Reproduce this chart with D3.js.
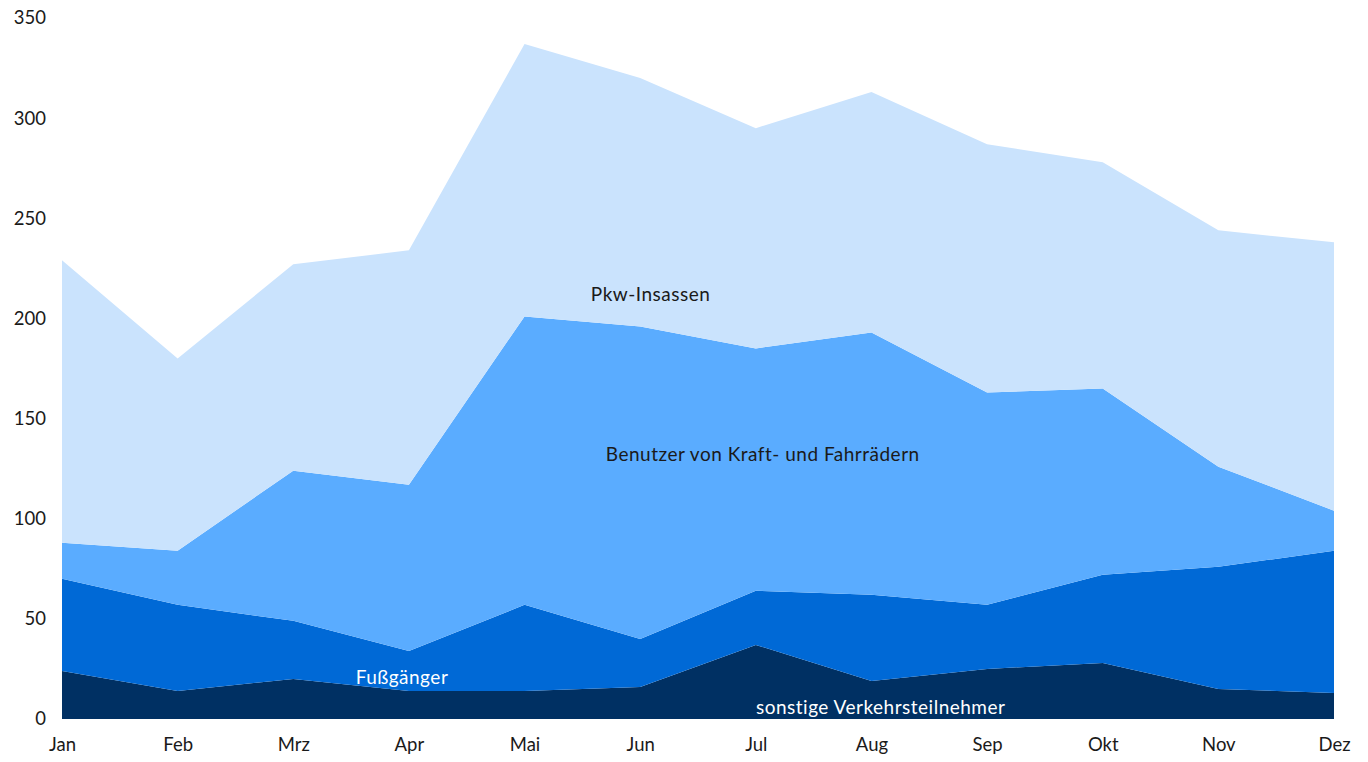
<!DOCTYPE html>
<html>
<head>
<meta charset="utf-8">
<script src="https://cdn.jsdelivr.net/npm/d3@7"></script>
<style>
  body { margin: 0; background: #fff; }
  svg text { font-family: Lato, "Open Sans", sans-serif; }
</style>
</head>
<body>
<div id="viz"></div>
<script>
var months = ["Jan", "Feb", "Mrz", "Apr", "Mai", "Jun", "Jul", "Aug", "Sep", "Okt", "Nov", "Dez"];
var sonstige = [24, 14, 20, 14, 14, 16, 37, 19, 25, 28, 15, 13];
var fussgaenger = [46, 43, 29, 20, 43, 24, 27, 43, 32, 44, 61, 71];
var kraftFahrrad = [18, 27, 75, 83, 144, 156, 121, 131, 106, 93, 50, 20];
var pkw = [141, 96, 103, 117, 136, 124, 110, 120, 124, 113, 118, 134];
var yTicks = [0, 50, 100, 150, 200, 250, 300, 350];

var seriesNames = ["sonstige Verkehrsteilnehmer", "Fußgänger", "Benutzer von Kraft- und Fahrrädern", "Pkw-Insassen"];
var colors = ["#003063", "#0069d6", "#5aacff", "#cae3fd"];

var width = 1368, height = 762,
    margin = {top: 18, right: 34, bottom: 43, left: 62};

var svg = d3.select('#viz').append('svg')
    .attr('width', width)
    .attr('height', height);

var rows = months.map(function(m, i) {
    return {month: m, s0: sonstige[i], s1: fussgaenger[i], s2: kraftFahrrad[i], s3: pkw[i]};
});

var x = d3.scalePoint()
    .domain(months)
    .range([margin.left, width - margin.right]);

var y = d3.scaleLinear()
    .domain([0, 350])
    .range([height - margin.bottom, margin.top]);

var stack = d3.stack().keys(["s0", "s1", "s2", "s3"]);
var layers = stack(rows);

var area = d3.area()
    .x(function(d) { return x(d.data.month); })
    .y0(function(d) { return y(d[0]); })
    .y1(function(d) { return y(d[1]); });

svg.append("g")
    .selectAll("path")
    .data(layers)
    .enter().append("path")
    .attr("d", area)
    .attr("fill", function(d, i) { return colors[i]; });

// y axis labels, no line
var yAxis = svg.append("g")
    .attr("transform", "translate(" + 46 + ",0)")
    .call(d3.axisLeft(y).tickValues(yTicks).tickSize(0).tickPadding(0));
yAxis.select(".domain").remove();
yAxis.selectAll("text")
    .attr("font-size", 18.5)
    .attr("fill", "#1a1a1a")
    .attr("dy", "0.32em");

// x axis labels
var xAxis = svg.append("g")
    .attr("transform", "translate(0," + (height - margin.bottom) + ")")
    .call(d3.axisBottom(x).tickSize(0).tickPadding(19));
xAxis.select(".domain").remove();
xAxis.selectAll("text")
    .attr("font-size", 18.5)
    .attr("fill", "#1a1a1a");

// in-chart series labels
var labels = [
    {name: seriesNames[3], mx: 5.09, v: 212, color: "#1a1a1a"},
    {name: seriesNames[2], mx: 6.06, v: 132, color: "#1a1a1a"},
    {name: seriesNames[1], mx: 2.94, v: 21, color: "#ffffff"},
    {name: seriesNames[0], mx: 7.08, v: 6, color: "#ffffff"}
];

var xi = d3.scaleLinear().domain([0, months.length - 1]).range(x.range());

svg.append("g")
    .selectAll("text")
    .data(labels)
    .enter().append("text")
    .attr("x", function(d) { return xi(d.mx); })
    .attr("y", function(d) { return y(d.v); })
    .attr("text-anchor", "middle")
    .attr("dy", "0.35em")
    .attr("font-size", 19)
    .attr("letter-spacing", "0.5px")
    .attr("fill", function(d) { return d.color; })
    .text(function(d) { return d.name; });
</script>
</body>
</html>
